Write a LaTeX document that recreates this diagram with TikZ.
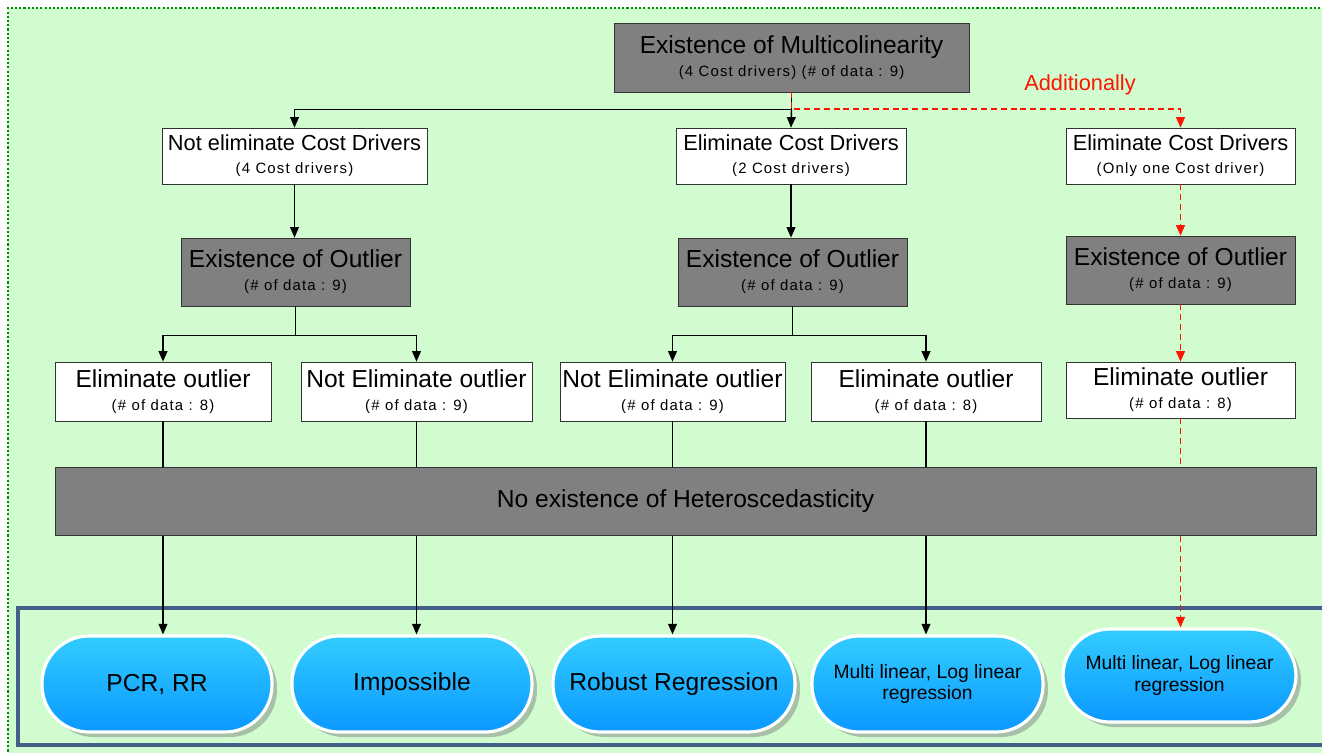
\documentclass[tikz,border=0pt]{standalone}
\usepackage{fontspec}
\setmainfont{Liberation Sans}
\newfontfamily\subfam{Liberation Sans}[LetterSpace=8]
\usetikzlibrary{arrows.meta,shadows}
\definecolor{bggreen}{RGB}{208,252,208}
\definecolor{dotgreen}{RGB}{0,140,0}
\definecolor{frameblue}{RGB}{66,96,136}
\definecolor{pilltop}{RGB}{51,204,255}
\definecolor{pillbot}{RGB}{10,152,255}
\definecolor{boxgray}{RGB}{128,128,128}
\definecolor{shadegreen}{RGB}{168,192,168}
\definecolor{addred}{RGB}{255,20,0}

\newcommand{\bigtxt}{\fontsize{14}{15}\selectfont}
\newcommand{\midtxt}{\fontsize{12.4}{13}\selectfont}
\newcommand{\pilltxt}{\fontsize{11}{13}\selectfont}
\newcommand{\smalltxt}{\subfam\fontsize{8.5}{10}\selectfont}

\begin{document}
\begin{tikzpicture}[x=0.02cm,y=-0.02cm,
    wbox/.style={draw=black!80, fill=white, align=center, inner sep=0pt},
    gbox/.style={draw=black!80, fill=boxgray, align=center, inner sep=0pt},
    pill/.style={draw=white, line width=1.8pt, rounded corners=0.94cm,
      top color=pilltop, bottom color=pillbot, align=center, inner sep=0pt,
      drop shadow={shadow xshift=0.1cm, shadow yshift=-0.1cm, fill=shadegreen, opacity=1}},
    arr/.style={-{Triangle[length=6pt,width=5pt]}, black, line width=0.8pt},
    addarr/.style={-{Triangle[length=6pt,width=5pt]}, addred, dash pattern=on 3.4pt off 2.2pt, line width=1pt}]
    \useasboundingbox (0,0) rectangle (1322,752);
    % background
    \fill[bggreen] (8,8) rectangle (1330,760);
    \draw[dotgreen, line width=1.4pt, dash pattern=on 1.2pt off 1.2pt] (8,760) -- (8,8) -- (1330,8);
    \draw[frameblue, line width=2.4pt] (18,608) rectangle (1340,745);

    % nodes
    \node[gbox, minimum width=7.1cm, minimum height=1.38cm] (mc) at (791.5,57.5)
      {\bigtxt Existence of Multicolinearity\\[1pt]\smalltxt (4 Cost drivers) (\# of data : 9)};
    \node[addred, font=\midtxt] (add) at (1080,85) {Additionally};

    \node[wbox, minimum width=5.3cm, minimum height=1.12cm] (ncd) at (294.5,156)
      {\midtxt Not eliminate Cost Drivers\\[1pt]\smalltxt (4 Cost drivers)};
    \node[wbox, minimum width=4.6cm, minimum height=1.12cm] (ecd2) at (791,156)
      {\midtxt Eliminate Cost Drivers\\[1pt]\smalltxt (2 Cost drivers)};
    \node[wbox, minimum width=4.58cm, minimum height=1.12cm] (ecd1) at (1180.5,156)
      {\midtxt Eliminate Cost Drivers\\[1pt]\smalltxt (Only one Cost driver)};

    \node[gbox, minimum width=4.58cm, minimum height=1.36cm] (ol1) at (295.5,272)
      {\bigtxt Existence of Outlier\\[1pt]\smalltxt (\# of data : 9)};
    \node[gbox, minimum width=4.58cm, minimum height=1.36cm] (ol2) at (792.5,272)
      {\bigtxt Existence of Outlier\\[1pt]\smalltxt (\# of data : 9)};
    \node[gbox, minimum width=4.58cm, minimum height=1.36cm] (ol3) at (1180.5,270)
      {\bigtxt Existence of Outlier\\[1pt]\smalltxt (\# of data : 9)};

    \node[wbox, minimum width=4.32cm, minimum height=1.18cm] (eo1) at (163,391.5)
      {\bigtxt Eliminate outlier\\[1pt]\smalltxt (\# of data : 8)};
    \node[wbox, minimum width=4.62cm, minimum height=1.18cm] (neo1) at (416.5,391.5)
      {\bigtxt Not Eliminate outlier\\[1pt]\smalltxt (\# of data : 9)};
    \node[wbox, minimum width=4.5cm, minimum height=1.18cm] (neo2) at (672.5,391.5)
      {\bigtxt Not Eliminate outlier\\[1pt]\smalltxt (\# of data : 9)};
    \node[wbox, minimum width=4.6cm, minimum height=1.18cm] (eo2) at (926,391.5)
      {\bigtxt Eliminate outlier\\[1pt]\smalltxt (\# of data : 8)};
    \node[wbox, minimum width=4.58cm, minimum height=1.12cm] (eo3) at (1180.5,390)
      {\bigtxt Eliminate outlier\\[1pt]\smalltxt (\# of data : 8)};

    \node[pill, minimum width=4.6cm, minimum height=1.92cm] (r1) at (157,684) {\bigtxt PCR, RR};
    \node[pill, minimum width=4.8cm, minimum height=1.92cm] (r2) at (412,684) {\bigtxt Impossible};
    \node[pill, minimum width=4.84cm, minimum height=1.92cm] (r3) at (674,684) {\bigtxt Robust Regression};
    \node[pill, minimum width=4.62cm, minimum height=1.92cm] (r4) at (927.5,684)
      {\pilltxt Multi linear, Log linear\\\pilltxt regression};
    \node[pill, minimum width=4.66cm, minimum height=1.86cm] (r5) at (1179.5,675.5)
      {\pilltxt Multi linear, Log linear\\\pilltxt regression};

    % connectors
    \draw[black, line width=0.8pt] (mc.south) -- ++(0,17) coordinate (s1);
    \draw[arr] (s1) -| (ncd.north);
    \draw[arr] (s1) -- (ecd2.north);
    \draw[addarr] (mc.south) -- (s1) -| (ecd1.north);

    \draw[arr] (ncd.south) -- (ncd.south |- ol1.north);
    \draw[arr] (ecd2.south) -- (ecd2.south |- ol2.north);
    \draw[addarr] (ecd1) -- (ol3);

    \draw[black, line width=0.8pt] (ol1.south) -- ++(0,29) coordinate (s2);
    \draw[arr] (s2) -| (eo1.north);
    \draw[arr] (s2) -| (neo1.north);
    \draw[black, line width=0.8pt] (ol2.south) -- ++(0,29) coordinate (s3);
    \draw[arr] (s3) -| (neo2.north);
    \draw[arr] (s3) -| (eo2.north);
    \draw[addarr] (ol3) -- (eo3);

    \draw[arr] (eo1.south) -- (eo1.south |- r1.north);
    \draw[arr] (neo1.south) -- (neo1.south |- r2.north);
    \draw[arr] (neo2.south) -- (neo2.south |- r3.north);
    \draw[arr] (eo2.south) -- (eo2.south |- r4.north);
    \draw[addarr] (eo3.south) -- (eo3.south |- r5.north);

    % bar on top of the long arrows
    \node[gbox, minimum width=25.22cm, minimum height=1.36cm] (het) at (685.5,501)
      {\bigtxt No existence of Heteroscedasticity};
\end{tikzpicture}
\end{document}
